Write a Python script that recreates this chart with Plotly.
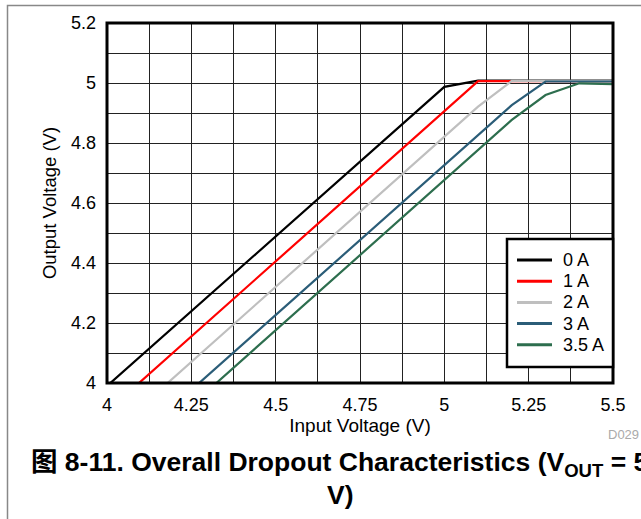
import plotly.graph_objects as go

vin = [4.0, 4.1, 4.2, 4.3, 4.4, 4.5, 4.6, 4.7, 4.8, 4.9, 5.0, 5.1, 5.2, 5.3, 5.4, 5.5]
v_0a = [3.99, 4.09, 4.19, 4.29, 4.39, 4.49, 4.59, 4.69, 4.79, 4.89, 4.987, 5.008, 5.008, 5.008, 5.008, 5.008]
v_1a = [3.905, 4.005, 4.105, 4.205, 4.305, 4.405, 4.505, 4.605, 4.705, 4.805, 4.903, 5.006, 5.006, 5.006, 5.006, 5.006]
v_2a = [3.82, 3.92, 4.02, 4.12, 4.22, 4.32, 4.42, 4.52, 4.62, 4.72, 4.821, 4.921, 5.007, 5.007, 5.007, 5.007]
v_3a = [3.727, 3.827, 3.927, 4.027, 4.127, 4.227, 4.327, 4.427, 4.527, 4.627, 4.726, 4.826, 4.926, 5.005, 5.005, 5.005]
v_35a = [3.675, 3.775, 3.875, 3.975, 4.075, 4.175, 4.275, 4.375, 4.475, 4.575, 4.677, 4.777, 4.877, 4.96, 4.999, 4.996]

names = ["0 A", "1 A", "2 A", "3 A", "3.5 A"]
colors = ["#000000", "#ff0000", "#bfbfbf", "#2b5d78", "#2d6e4e"]
series = [v_0a, v_1a, v_2a, v_3a, v_35a]

FONT = "Liberation Sans, Arial, Noto Sans CJK SC, sans-serif"

fig = go.Figure()
for n, c, s in zip(names, colors, series):
    fig.add_trace(go.Scatter(x=vin, y=s, name=n, mode="lines",
                             line=dict(color=c, width=2.2), showlegend=False))

W, H = 641, 519
L, R, T, B = 107, 28, 23, 136
pw, ph = W - L - R, H - T - B

def px(x):
    return (x - L) / pw

def py(y):
    return (H - B - y) / ph

fig.update_layout(
    width=W, height=H,
    margin=dict(l=L, r=R, t=T, b=B, pad=0),
    paper_bgcolor="white", plot_bgcolor="white",
    font=dict(family=FONT, size=18, color="black"),
    showlegend=False,
    xaxis=dict(range=[4, 5.5], tickvals=[4, 4.25, 4.5, 4.75, 5, 5.25, 5.5],
               ticktext=["4", "4.25", "4.5", "4.75", "5", "5.25", "5.5"],
               showgrid=True, gridcolor="#222222", gridwidth=1,
               minor=dict(dtick=0.125, showgrid=True, gridcolor="#222222", gridwidth=1),
               zeroline=False, showline=False, ticks="", ticklabelstandoff=9,
               title=dict(text="Input Voltage (V)", standoff=2, font=dict(size=19))),
    yaxis=dict(range=[4, 5.2], tickvals=[4, 4.2, 4.4, 4.6, 4.8, 5, 5.2],
               ticktext=["4", "4.2", "4.4", "4.6", "4.8", "5", "5.2"],
               showgrid=True, gridcolor="#222222", gridwidth=1,
               minor=dict(dtick=0.1, showgrid=True, gridcolor="#222222", gridwidth=1),
               zeroline=False, showline=False, ticks="", ticklabelstandoff=10,
               title=dict(text="Output Voltage (V)", standoff=9, font=dict(size=18.5))),
)

# plot frame
fig.add_shape(type="rect", xref="paper", yref="paper", x0=0, x1=1, y0=0, y1=1,
              line=dict(color="black", width=3), layer="above")
# outer gray border
fig.add_shape(type="rect", xref="paper", yref="paper",
              x0=px(7.5), x1=px(660), y0=py(540), y1=py(5.5),
              line=dict(color="#888888", width=1.5), layer="below")

# legend box (drawn to match the reference's compact row spacing)
fig.add_shape(type="rect", xref="paper", yref="paper",
              x0=px(507), x1=px(613), y0=py(367), y1=py(239),
              line=dict(color="black", width=2.5), fillcolor="white", layer="above")
for i, (n, c) in enumerate(zip(names, colors)):
    yy = py(260 + 21.2 * i)
    fig.add_shape(type="line", xref="paper", yref="paper",
                  x0=px(517), x1=px(552), y0=yy, y1=yy,
                  line=dict(color=c, width=3), layer="above")
    fig.add_annotation(xref="paper", yref="paper", x=px(561), y=yy,
                       xanchor="left", yanchor="middle", showarrow=False,
                       text=n, font=dict(size=18, color="black"))

fig.add_annotation(xref="paper", yref="paper", x=px(641), y=py(434),
                   xanchor="right", yanchor="middle", showarrow=False,
                   text="D029", font=dict(size=13, color="#aaaaaa"))

fig.add_annotation(xref="paper", yref="paper", x=px(29), y=py(464),
                   xanchor="left", yanchor="middle", showarrow=False, align="left",
                   text="<b>图 8-11. Overall Dropout Characteristics (V<sub>OUT</sub> = 5</b>",
                   font=dict(size=26.5, color="black", family=FONT))
fig.add_annotation(xref="paper", yref="paper", x=px(340), y=py(495),
                   xanchor="center", yanchor="middle", showarrow=False,
                   text="<b>V)</b>",
                   font=dict(size=26.5, color="black", family=FONT))

fig.write_html("out.html", config={"displayModeBar": False},
               post_script="document.body.style.margin='0px';")
